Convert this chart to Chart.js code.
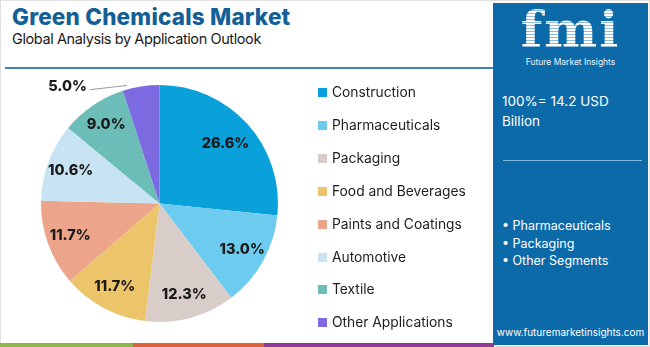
<!DOCTYPE html>
<html>
<head>
<meta charset="utf-8">
<script src="https://cdn.jsdelivr.net/npm/chart.js@4/dist/chart.umd.min.js"></script>
<style>
  html, body { margin: 0; padding: 0; background: #fff; }
  #wrap { position: relative; width: 650px; height: 347px; overflow: hidden; background: #fff;
          font-family: "Open Sans", "Noto Sans", sans-serif; }
  #frame { position: absolute; left: 0; top: 0; width: 648px; height: 345px; border: 1px solid #e2e2e2; }
  #title { position: absolute; left: 12px; top: 3px; font-family: Inter, "Open Sans", sans-serif; font-weight: 800;
           font-size: 22.5px; color: #145f95; letter-spacing: 0.2px; white-space: nowrap; }
  #subtitle { position: absolute; left: 12px; top: 30px; font-family: Inter, "Open Sans", sans-serif; font-size: 14.5px;
              color: #1a1a1a; white-space: nowrap; letter-spacing: -0.4px; }
  #rule { position: absolute; left: 5px; top: 67px; width: 488px; height: 2px; background: #3d82b8; }
  #pie { position: absolute; left: 0; top: 0; }
  #legend { position: absolute; left: 318px; top: 82px; font-family: Inter, "Open Sans", sans-serif; font-size: 13.8px; color: #1e1e1e; }
  .lg { position: absolute; left: 0; white-space: nowrap; height: 20px; line-height: 20px; }
  .lg i { display: inline-block; width: 9px; height: 9px; margin-right: 5px; vertical-align: 0px; }
  #panel { position: absolute; left: 493px; top: 3px; width: 155px; height: 342px; background: #0d6aa9; color: #fff;
           font-family: Inter, "Open Sans", sans-serif; }
  #logo { position: absolute; left: 0; top: 2px; width: 155px; text-align: center; font-family: "DejaVu Serif", serif;
          font-weight: bold; font-size: 50px; line-height: 50px; letter-spacing: 2px;
          background: repeating-linear-gradient(#ffffff 0 2px, rgba(255,255,255,0.55) 2px 3px);
          -webkit-background-clip: text; background-clip: text; color: transparent; }
  #logosub { position: absolute; left: 0; top: 54px; width: 155px; text-align: center; font-size: 8.5px; color: #e8f2fa; }
  #total { position: absolute; left: 9px; top: 88px; font-size: 13.5px; line-height: 20px; }
  #prule { position: absolute; left: 10px; top: 157px; width: 139px; height: 1px; background: #7fb7df; }
  #bul { position: absolute; left: 9px; top: 214px; font-size: 12.5px; line-height: 17.5px; }
  #url { position: absolute; left: 0; top: 323px; width: 155px; text-align: center; font-size: 10px; }
  .strip { position: absolute; top: 343px; height: 4px; }
</style>
</head>
<body>
<div id="wrap">
  <div id="frame"></div>
  <div id="title">Green Chemicals Market</div>
  <div id="subtitle">Global Analysis by Application Outlook</div>
  <div id="rule"></div>
  <canvas id="pie" width="490" height="340"></canvas>
  <div id="legend"></div>
  <div id="panel">
    <div id="logo">fmi</div>
    <div id="logosub">Future Market Insights</div>
    <div id="total">100%= 14.2 USD<br>Billion</div>
    <div id="prule"></div>
    <div id="bul">• Pharmaceuticals<br>• Packaging<br>• Other Segments</div>
    <div id="url">www.futuremarketinsights.com</div>
  </div>
  <div class="strip" style="left:0;width:133px;background:#8cb846"></div>
  <div class="strip" style="left:133px;width:131px;background:#e06238"></div>
  <div class="strip" style="left:264px;width:230px;background:#8a3c98"></div>
</div>
<script>
// Application segments and their shares (%)
const categories = ["Construction", "Pharmaceuticals", "Packaging", "Food and Beverages",
                    "Paints and Coatings", "Automotive", "Textile", "Other Applications"];
const shares = [26.6, 13.0, 12.3, 11.7, 11.7, 10.6, 9.0, 5.0];
const colors = ["#0aa1da", "#6dcbef", "#d9cdca", "#ecc56b", "#eca48a", "#c8e3f3", "#6cbdb8", "#7c6ae0"];

// Legend rows
const legend = document.getElementById("legend");
categories.forEach((c, i) => {
  const d = document.createElement("div");
  d.className = "lg";
  d.style.top = (i * 32.9) + "px";
  d.innerHTML = '<i style="background:' + colors[i] + '"></i>' + c;
  legend.appendChild(d);
});

// Percentage labels on the slices; the smallest one sits outside with a leader line
const sliceLabels = {
  id: "sliceLabels",
  afterDatasetsDraw(chart) {
    const ctx = chart.ctx;
    const meta = chart.getDatasetMeta(0);
    ctx.save();
    ctx.font = "800 14.5px Inter, 'Open Sans', sans-serif";
    ctx.fillStyle = "#1a1a1a";
    ctx.textAlign = "center";
    ctx.textBaseline = "middle";
    meta.data.forEach((arc, i) => {
      const p = arc.getProps(["x", "y", "startAngle", "endAngle", "outerRadius"], true);
      const mid = (p.startAngle + p.endAngle) / 2;
      const text = shares[i].toFixed(1) + "%";
      if (shares[i] < 6) {
        const ex = p.x + Math.cos(mid) * p.outerRadius;
        const ey = p.y + Math.sin(mid) * p.outerRadius;
        const lx = p.x - p.outerRadius * 0.595;
        const ly = p.y - p.outerRadius * 0.99;
        ctx.strokeStyle = "#9a9a9a";
        ctx.lineWidth = 1;
        ctx.beginPath();
        ctx.moveTo(ex - 14, ey - 1);
        ctx.lineTo(lx + 1, ly + 3.5);
        ctx.stroke();
        ctx.textAlign = "right";
        ctx.fillText(text, lx - 2, ly);
        ctx.textAlign = "center";
      } else {
        const f = i === 0 ? 0.75 : 0.8;
        ctx.fillText(text, p.x + Math.cos(mid) * p.outerRadius * f, p.y + Math.sin(mid) * p.outerRadius * f);
      }
    });
    ctx.restore();
  }
};

new Chart(document.getElementById("pie"), {
  type: "pie",
  data: {
    labels: categories,
    datasets: [{ data: shares, backgroundColor: colors, borderWidth: 0 }]
  },
  options: {
    responsive: false,
    animation: false,
    devicePixelRatio: 1,
    layout: { padding: { left: 41, top: 85, right: 490 - 41 - 237, bottom: 340 - 85 - 237 } },
    plugins: { legend: { display: false }, tooltip: { enabled: false } }
  },
  plugins: [sliceLabels]
});
</script>
</body>
</html>
